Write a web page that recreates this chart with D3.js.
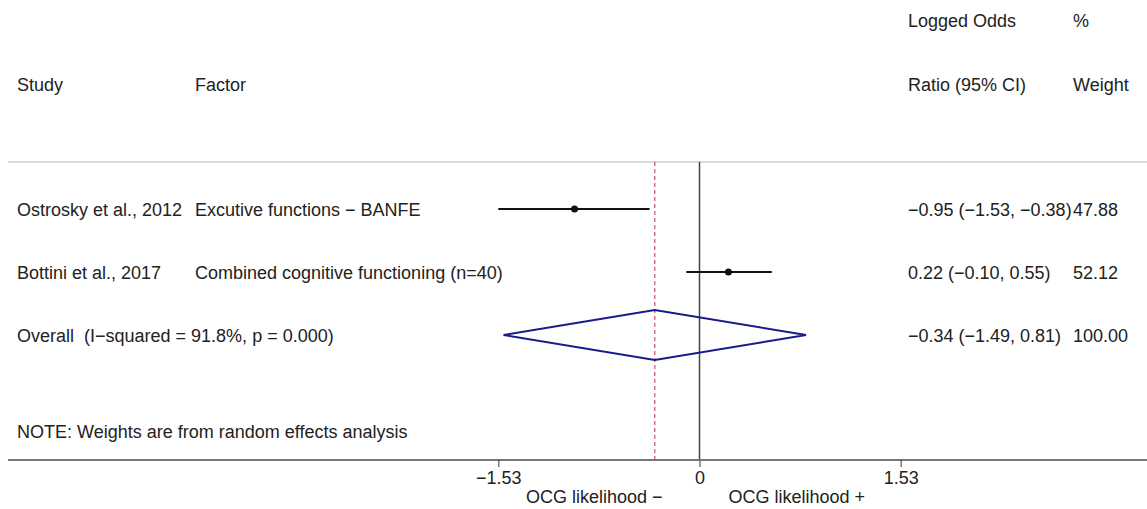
<!DOCTYPE html>
<html>
<head>
<meta charset="utf-8">
<script src="https://cdn.jsdelivr.net/npm/d3@7"></script>
<style>
  html, body { margin: 0; padding: 0; background: #fff; }
  svg text { font-family: "Liberation Sans", Arial, sans-serif; font-size: 18px; fill: #222; white-space: pre; }
</style>
</head>
<body>
<svg id="chart" width="1147" height="509"></svg>
<script>
// Study-level results (logged odds ratios with 95% CI)
const studies = ["Ostrosky et al., 2012", "Bottini et al., 2017"];
const factors = ["Excutive functions \u2212 BANFE", "Combined cognitive functioning (n=40)"];
const estimates = [-0.95, 0.22];
const lowerCI = [-1.53, -0.10];
const upperCI = [-0.38, 0.55];
const weights = [47.88, 52.12];

// Pooled random-effects estimate
const overallLabel = "Overall  (I\u2212squared = 91.8%, p = 0.000)";
const overallEst = -0.34;
const overallLo = -1.49;
const overallHi = 0.81;
const overallWeight = 100.00;

const axisTicks = [-1.53, 0, 1.53];
const axisLabels = ["OCG likelihood \u2212", "OCG likelihood +"];
const note = "NOTE: Weights are from random effects analysis";

const svg = d3.select("#chart");

const x = d3.scaleLinear().domain([-1.53, 1.53]).range([498.3, 900.7]);
const rowY = d3.scaleLinear().domain([0, 1]).range([209, 272]);

const plotTop = 162, plotBottom = 460;
const colStudy = 17, colFactor = 195, colEst = 908, colWeight = 1073;
const baseOff = 6.5;

const minusFmt = v => d3.format(".2f")(v).replace("-", "\u2212");
const ciText = (e, l, h) => `${minusFmt(e)} (${minusFmt(l)}, ${minusFmt(h)})`;

// Column headers
svg.append("text").attr("x", colEst).attr("y", 20 + baseOff).text("Logged Odds");
svg.append("text").attr("x", colWeight).attr("y", 20 + baseOff).text("%");
svg.append("text").attr("x", colStudy).attr("y", 84 + baseOff).text("Study");
svg.append("text").attr("x", colFactor).attr("y", 84 + baseOff).text("Factor");
svg.append("text").attr("x", colEst).attr("y", 84 + baseOff).text("Ratio (95% CI)");
svg.append("text").attr("x", colWeight).attr("y", 84 + baseOff).text("Weight");

// Header separator
svg.append("line")
  .attr("x1", 8).attr("x2", 1147).attr("y1", plotTop).attr("y2", plotTop)
  .attr("stroke", "#dcdcdc").attr("stroke-width", 2);

// Line of no effect
svg.append("line")
  .attr("x1", x(0)).attr("x2", x(0)).attr("y1", plotTop).attr("y2", plotBottom)
  .attr("stroke", "#444").attr("stroke-width", 1.5);

// Overall estimate reference line
svg.append("line")
  .attr("x1", x(overallEst)).attr("x2", x(overallEst)).attr("y1", plotTop).attr("y2", plotBottom)
  .attr("stroke", "#c8506a").attr("stroke-width", 1.2).attr("stroke-dasharray", "4,3");

// Study rows
const rows = studies.map((s, i) => ({
  study: s, factor: factors[i], est: estimates[i], lo: lowerCI[i], hi: upperCI[i], w: weights[i], y: rowY(i)
}));

const g = svg.selectAll("g.row").data(rows).join("g").attr("class", "row");
g.append("line")
  .attr("x1", d => x(d.lo)).attr("x2", d => x(d.hi))
  .attr("y1", d => d.y).attr("y2", d => d.y)
  .attr("stroke", "#111").attr("stroke-width", 2);
g.append("circle")
  .attr("cx", d => x(d.est)).attr("cy", d => d.y).attr("r", 3.5).attr("fill", "#111");
g.append("text").attr("x", colStudy).attr("y", d => d.y + baseOff).text(d => d.study);
g.append("text").attr("x", colFactor).attr("y", d => d.y + baseOff).text(d => d.factor);
g.append("text").attr("x", colEst).attr("y", d => d.y + baseOff).text(d => ciText(d.est, d.lo, d.hi));
g.append("text").attr("x", colWeight).attr("y", d => d.y + baseOff).text(d => d3.format(".2f")(d.w));

// Pooled diamond
const yo = rowY(2);
const dh = 25;
svg.append("path")
  .attr("d", d3.line()([
    [x(overallLo), yo], [x(overallEst), yo - dh], [x(overallHi), yo], [x(overallEst), yo + dh]
  ]) + "Z")
  .attr("fill", "none").attr("stroke", "#1a1a8c").attr("stroke-width", 2);
svg.append("text").attr("x", colStudy).attr("y", yo + baseOff).text(overallLabel);
svg.append("text").attr("x", colEst).attr("y", yo + baseOff).text(ciText(overallEst, overallLo, overallHi));
svg.append("text").attr("x", colWeight).attr("y", yo + baseOff).text(d3.format(".2f")(overallWeight));

svg.append("text").attr("x", colStudy).attr("y", 431 + baseOff).text(note);

// Bottom axis
svg.append("line")
  .attr("x1", 8).attr("x2", 1147).attr("y1", plotBottom).attr("y2", plotBottom)
  .attr("stroke", "#777").attr("stroke-width", 2);
const axis = svg.append("g")
  .attr("transform", `translate(0,${plotBottom})`)
  .call(d3.axisBottom(x).tickValues(axisTicks).tickSize(7).tickPadding(4)
    .tickFormat(v => v === 0 ? "0" : minusFmt(v)));
axis.select(".domain").remove();
axis.selectAll(".tick line").attr("stroke", "#555").attr("stroke-width", 1.2);
axis.selectAll(".tick text").attr("font-size", "18px").attr("fill", "#222")
  .style("font-family", "\"Liberation Sans\", Arial, sans-serif");

svg.append("text").attr("x", x(0) - 37).attr("y", 503).attr("text-anchor", "end").text(axisLabels[0]);
svg.append("text").attr("x", x(0) + 29).attr("y", 503).attr("text-anchor", "start").text(axisLabels[1]);
</script>
</body>
</html>
